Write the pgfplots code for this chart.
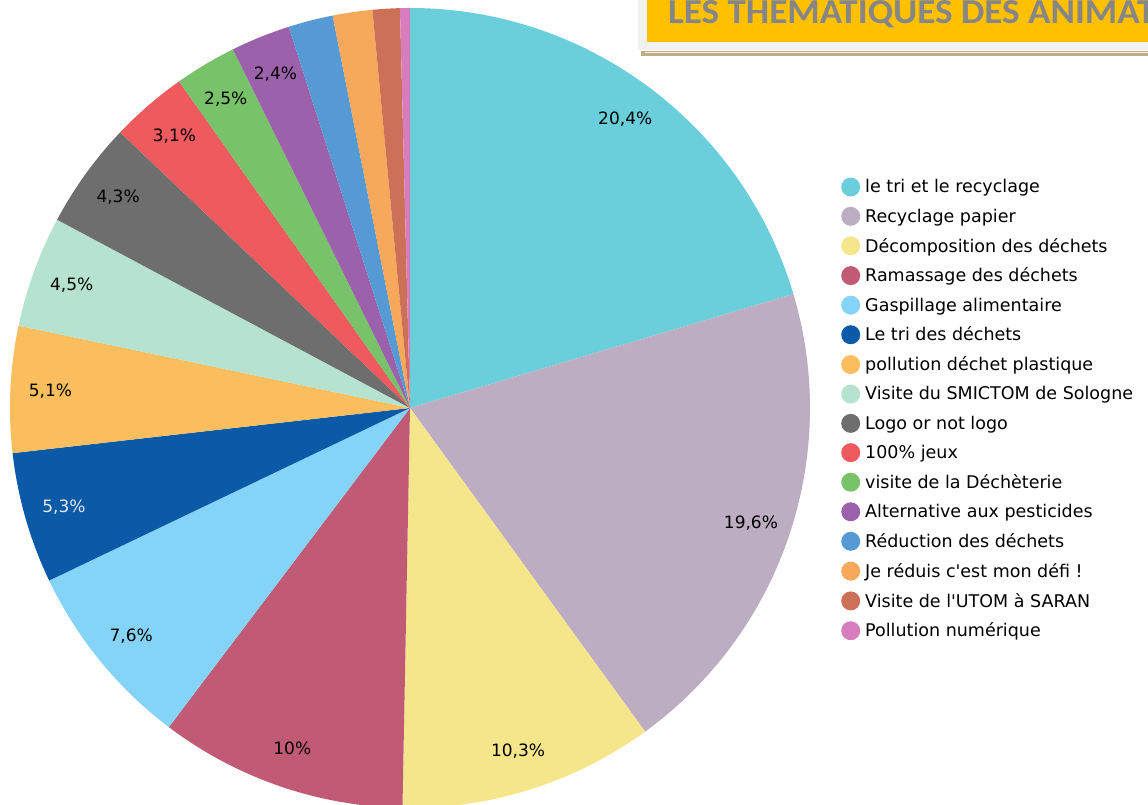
\documentclass[border=0pt]{standalone}
\usepackage{fontspec}
\setmainfont{DejaVu Sans}
\newfontfamily\titlefont{Carlito}[FakeStretch=1.06]
\usepackage{pgfplots}
\usepackage{pgfplotstable}
\pgfplotsset{compat=1.18}
\usetikzlibrary{calc}

\definecolor{c1}{HTML}{6BCFDB}
\definecolor{c2}{HTML}{BDADC2}
\definecolor{c3}{HTML}{F5E68C}
\definecolor{c4}{HTML}{C05A75}
\definecolor{c5}{HTML}{85D3F7}
\definecolor{c6}{HTML}{0A5AA8}
\definecolor{c7}{HTML}{FBBE5E}
\definecolor{c8}{HTML}{B5E3CF}
\definecolor{c9}{HTML}{6E6E6E}
\definecolor{c10}{HTML}{EE5A5E}
\definecolor{c11}{HTML}{78C26A}
\definecolor{c12}{HTML}{9B62AB}
\definecolor{c13}{HTML}{5599D5}
\definecolor{c14}{HTML}{F7A85A}
\definecolor{c15}{HTML}{CC7158}
\definecolor{c16}{HTML}{D77DBE}
\definecolor{lbl}{HTML}{E6E6E6}
\definecolor{titlegray}{HTML}{868686}
\definecolor{titleyel}{HTML}{FFC000}
\definecolor{boxgray}{HTML}{F2F2F2}
\definecolor{tan}{HTML}{BFAE80}

% share (%) of each theme, colour, label colour
\pgfplotstableread[col sep=comma]{
v,c,t
20.4,c1,black
19.6,c2,black
10.3,c3,black
10,c4,black
7.6,c5,black
5.3,c6,lbl
5.1,c7,black
4.5,c8,black
4.3,c9,black
3.1,c10,black
2.5,c11,black
2.4,c12,black
1.8,c13,black
1.6,c14,black
1.1,c15,black
0.4,c16,black
}\piedata

\begin{document}
\begin{tikzpicture}
\useasboundingbox (0,0) rectangle (1148pt,805pt);
\clip (0,0) rectangle (1148pt,805pt);
\begin{axis}[at={(10pt,-3pt)},anchor=south west,width=800pt,height=800pt,scale only axis,
  hide axis,xmin=-1,xmax=1,ymin=-1,ymax=1,
  /pgf/number format/assume math mode=true,
  legend style={at={(1.03875,0.78838)},anchor=north west,draw=none,fill=none,inner sep=0pt,
    font=\fontsize{17.5}{21}\selectfont,row sep=10.3pt},
  legend cell align=left,
  legend image code/.code={\fill[#1,draw=none] (0pt,0pt) circle[radius=9.5pt];
    \path[draw=none,fill=none] (0pt,0pt) -- (12.5pt,0pt);}]
\pgfplotsextra{
  \path (axis cs:0,0) coordinate (O) (axis cs:1,0) coordinate (E);
  \gdef\acc{0}
  \pgfplotstablegetrowsof{\piedata}
  \pgfmathtruncatemacro\nrows{\pgfplotsretval-1}
  \foreach \i in {0,...,\nrows}{
    \pgfplotstablegetelem{\i}{v}\of\piedata \let\val\pgfplotsretval
    \pgfplotstablegetelem{\i}{c}\of\piedata \let\col\pgfplotsretval
    \pgfplotstablegetelem{\i}{t}\of\piedata \let\tcol\pgfplotsretval
    \pgfmathsetmacro\sa{90-3.6*\acc}
    \pgfmathsetmacro\ea{90-3.6*(\acc+\val)}
    \pgfmathsetmacro\ma{(\sa+\ea)/2}
    \fill[\col] let \p1=($(E)-(O)$) in (O) -- ++(\sa:\x1) arc[start angle=\sa,end angle=\ea,radius=\x1] -- cycle;
    \pgfmathtruncatemacro\showlbl{\val>=2}
    \ifnum\showlbl=1
      \node[text=\tcol,font=\fontsize{17}{20}\selectfont] at (axis cs:{0.9*cos(\ma)},{0.9*sin(\ma)})
        {\pgfmathprintnumber[use comma,fixed,precision=1,assume math mode=true]{\val}\%};
    \fi
    \pgfmathsetmacro\newacc{\acc+\val}
    \global\let\acc\newacc
  }
}
\addlegendimage{fill=c1}\addlegendentry{le tri et le recyclage}
\addlegendimage{fill=c2}\addlegendentry{Recyclage papier}
\addlegendimage{fill=c3}\addlegendentry{Décomposition des déchets}
\addlegendimage{fill=c4}\addlegendentry{Ramassage des déchets}
\addlegendimage{fill=c5}\addlegendentry{Gaspillage alimentaire}
\addlegendimage{fill=c6}\addlegendentry{Le tri des déchets}
\addlegendimage{fill=c7}\addlegendentry{pollution déchet plastique}
\addlegendimage{fill=c8}\addlegendentry{Visite du SMICTOM de Sologne}
\addlegendimage{fill=c9}\addlegendentry{Logo or not logo}
\addlegendimage{fill=c10}\addlegendentry{100\% jeux}
\addlegendimage{fill=c11}\addlegendentry{visite de la Déchèterie}
\addlegendimage{fill=c12}\addlegendentry{Alternative aux pesticides}
\addlegendimage{fill=c13}\addlegendentry{Réduction des déchets}
\addlegendimage{fill=c14}\addlegendentry{Je réduis c\textquotesingle est mon défi !}
\addlegendimage{fill=c15}\addlegendentry{Visite de l\textquotesingle UTOM à SARAN}
\addlegendimage{fill=c16}\addlegendentry{Pollution numérique}
\end{axis}
% title banner
\fill[boxgray] (638pt,755pt) rectangle (1148pt,805pt);
\fill[titleyel] (647pt,762.7pt) rectangle (1148pt,805pt);
\fill[tan] (641pt,749pt) rectangle (1148pt,754.3pt);
\fill[boxgray] (645pt,752pt) rectangle (1148pt,752.8pt);
\node[anchor=base west,inner sep=0pt,text=titlegray,font=\titlefont\bfseries\fontsize{35}{40}\selectfont]
  at (668pt,781pt) {LES THEMATIQUES DES ANIMATIONS};
\end{tikzpicture}
\end{document}
